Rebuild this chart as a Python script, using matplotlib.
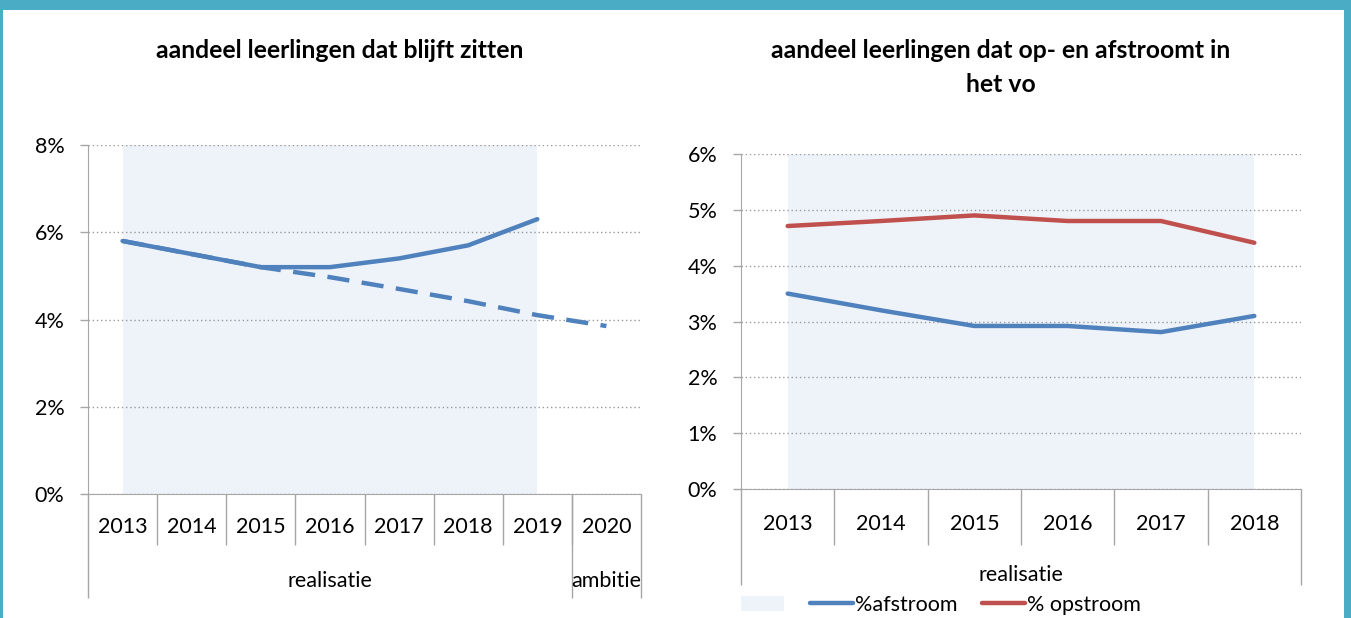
import matplotlib.pyplot as plt
from matplotlib.patches import Rectangle, Patch
from matplotlib.lines import Line2D
from matplotlib.ticker import PercentFormatter

plt.rcParams['font.family'] = ['Lato', 'DejaVu Sans']

# data - linker grafiek (blijven zitten)
years_left = ['2013', '2014', '2015', '2016', '2017', '2018', '2019', '2020']
realisatie_left = [5.8, 5.5, 5.2, 5.2, 5.4, 5.7, 6.3]
ambitie_left = [5.8, 5.5, 5.2, 4.97, 4.7, 4.42, 4.1, 3.85]
shade_left = [8, 8, 8, 8, 8, 8, 8]

# data - rechter grafiek (op- en afstroom)
years_right = ['2013', '2014', '2015', '2016', '2017', '2018']
afstroom = [3.5, 3.2, 2.92, 2.92, 2.81, 3.1]
opstroom = [4.71, 4.8, 4.9, 4.8, 4.8, 4.41]
shade_right = [6, 6, 6, 6, 6, 6]

BLUE = '#4F81BD'
RED = '#C0504D'
SHADE = '#EEF3FA'
GRID = '#9A9A9A'
AXIS = '#A6A6A6'
FS = 15.5
TFS = 17.8
LW = 3.2

W, H = 1351, 618
fig = plt.figure(figsize=(W / 100, H / 100), dpi=100)
fig.patch.set_facecolor('#4BACC6')
fig.add_artist(Rectangle((3 / W, 0), (1344 - 3) / W, (H - 10) / H,
                         transform=fig.transFigure, facecolor='white',
                         edgecolor='none', zorder=0))


def make_axes(x0, x1, y_top, y_bot):
    return fig.add_axes([x0 / W, 1 - y_bot / H, (x1 - x0) / W, (y_bot - y_top) / H])


def style_axes(ax, ymax, step):
    ax.set_facecolor('none')
    ax.set_ylim(0, ymax)
    ax.set_yticks(range(0, ymax + 1, step))
    ax.yaxis.set_major_formatter(PercentFormatter(decimals=0))
    for s in ['top', 'right']:
        ax.spines[s].set_visible(False)
    ax.spines['left'].set_color(AXIS)
    ax.spines['bottom'].set_color(AXIS)
    ax.tick_params(axis='y', length=6, width=1, color=AXIS, pad=11,
                   labelsize=FS, labelcolor='black')
    ax.tick_params(axis='x', length=0, labelbottom=False)
    ax.grid(axis='y', linestyle=(0, (1, 2)), color=GRID, linewidth=1)
    ax.set_axisbelow(True)


def category_axis(ax, labels, groups, h_px, sep_px, outer_px, year_px, group_px):
    n = len(labels)
    ax.set_xlim(-0.5, n - 0.5)
    tr = ax.get_xaxis_transform()
    for i, lab in enumerate(labels):
        ax.text(i, -year_px / h_px, lab, transform=tr, ha='center', va='center',
                fontsize=FS)
    ax.vlines([i - 0.5 for i in range(1, n)], -sep_px / h_px, 0, transform=tr,
              color=AXIS, lw=1, clip_on=False)
    edges = [-0.5]
    for name, count in groups:
        start = edges[-1]
        end = start + count
        edges.append(end)
        ax.text((start + end) / 2, -group_px / h_px, name, transform=tr,
                ha='center', va='center', fontsize=FS)
    ax.vlines(edges, -outer_px / h_px, 0, transform=tr, color=AXIS, lw=1,
              clip_on=False)


# linker grafiek
ax1 = make_axes(88, 641, 145, 494)
style_axes(ax1, 8, 2)
ax1.fill_between(range(len(shade_left)), 0, shade_left, color=SHADE, lw=0, zorder=0)
ax1.plot(range(len(ambitie_left)), ambitie_left, color=BLUE, lw=LW,
         linestyle=(0, (5, 2.8)), zorder=3)
ax1.plot(range(len(realisatie_left)), realisatie_left, color=BLUE, lw=LW,
         solid_capstyle='round', zorder=4)
category_axis(ax1, years_left, [('realisatie', 7), ('ambitie', 1)],
              349, 51, 104, 33, 87)
fig.text(340 / W, 1 - 50 / H, 'aandeel leerlingen dat blijft zitten',
         ha='center', va='center', fontsize=TFS, fontweight='bold')

# rechter grafiek
ax2 = make_axes(741, 1301, 154, 489)
style_axes(ax2, 6, 1)
ax2.fill_between(range(len(shade_right)), 0, shade_right, color=SHADE, lw=0, zorder=0)
ax2.plot(range(len(afstroom)), afstroom, color=BLUE, lw=LW,
         solid_capstyle='round', zorder=4)
ax2.plot(range(len(opstroom)), opstroom, color=RED, lw=LW,
         solid_capstyle='round', zorder=4)
category_axis(ax2, years_right, [('realisatie', 6)], 335, 56, 96, 35, 86)
fig.text(1001 / W, 1 - 50 / H, 'aandeel leerlingen dat op- en afstroomt in',
         ha='center', va='center', fontsize=TFS, fontweight='bold')
fig.text(1001 / W, 1 - 84 / H, 'het vo',
         ha='center', va='center', fontsize=TFS, fontweight='bold')

handles = [Patch(facecolor=SHADE, edgecolor='none'),
           Line2D([], [], color=BLUE, lw=LW, solid_capstyle='round'),
           Line2D([], [], color=RED, lw=LW, solid_capstyle='round')]
fig.legend(handles, ['', '%afstroom', '% opstroom'], ncol=3, frameon=False,
           loc='center', bbox_to_anchor=(941 / W, 1 - 605 / H),
           fontsize=FS, handlelength=2.0, handletextpad=0.1,
           columnspacing=1.1)

fig.savefig('out.png', dpi=100, facecolor=fig.get_facecolor())
